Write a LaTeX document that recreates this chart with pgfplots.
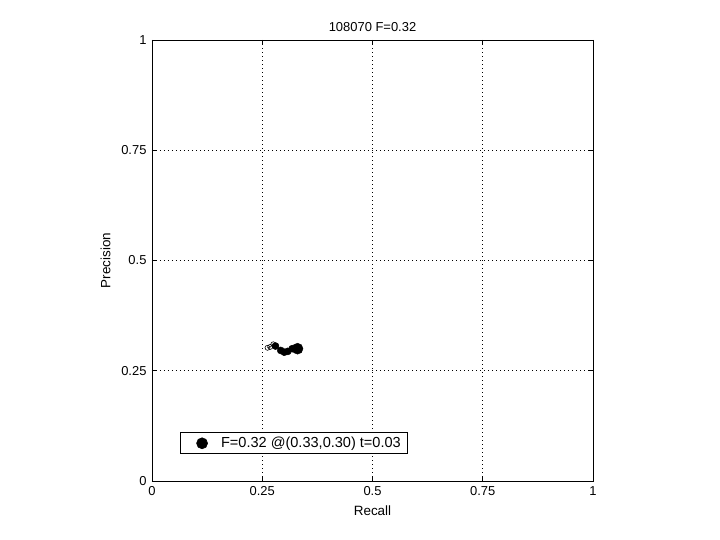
\documentclass[border=0pt]{standalone}
\usepackage{pgfplots}
\pgfplotsset{compat=1.18}
\usepackage{fontspec}
\setmainfont{Liberation Sans}
\begin{document}
\begin{tikzpicture}[x=1bp,y=1bp]
\path[use as bounding box] (-152,-59) rectangle (568,481);
\begin{axis}[
  at={(0,0)}, anchor=origin,
  scale only axis, width=441bp, height=441bp,
  xmin=0, xmax=1, ymin=0, ymax=1,
  xtick={0,0.25,0.5,0.75,1}, ytick={0,0.25,0.5,0.75,1},
  xticklabels={0,0.25,0.5,0.75,1}, yticklabels={0,0.25,0.5,0.75,1},
  tick align=inside, tick pos=both,
  major tick length=5bp,
  grid=major, grid style={black, dash pattern=on 1bp off 3bp, line width=0.6pt},
  axis line style={black, line width=0.6pt},
  tick style={black, line width=0.6pt},
  every tick label/.style={font=\fontsize{13}{15}\selectfont},
  xticklabel style={yshift=-2bp},
  yticklabel style={xshift=-2bp},
  xlabel={Recall}, ylabel={Precision},
  label style={font=\fontsize{13.5}{15}\selectfont},
  title={108070 F=0.32},
  title style={font=\fontsize{13}{15}\selectfont, yshift=-1bp},
  xlabel style={yshift=-3bp},
  ylabel style={yshift=4bp},
  legend style={at={(0.063,0.061)}, anchor=south west, draw=black, line width=0.6pt,
    font=\fontsize{14.6}{16}\selectfont, inner xsep=4bp, inner ysep=2.5bp},
  legend cell align=left,
  legend image code/.code={\path[draw=none,fill=none] (0bp,0bp) -- (35bp,0bp); \fill[black] (18bp,0bp) circle (5.5bp);},
]
\addplot[black, only marks, mark=*, mark size=5.5bp, forget plot] coordinates {(0.33,0.30)};
\addplot[black, line width=0.5pt, mark=o, mark size=2.5bp, mark options={line width=0.6pt}, forget plot] coordinates {
(0.262,0.302) (0.268,0.304) (0.275,0.310) (0.280,0.306)};
\addplot[black, line width=0.5pt, mark=*, mark size=3.5bp, forget plot] coordinates {
(0.280,0.306) (0.292,0.296) (0.300,0.292) (0.308,0.294) (0.318,0.300) (0.33,0.30)};
\addlegendimage{black, fill=black}
\addlegendentry{F=0.32 @(0.33,0.30) t=0.03}
\end{axis}
\end{tikzpicture}
\end{document}
